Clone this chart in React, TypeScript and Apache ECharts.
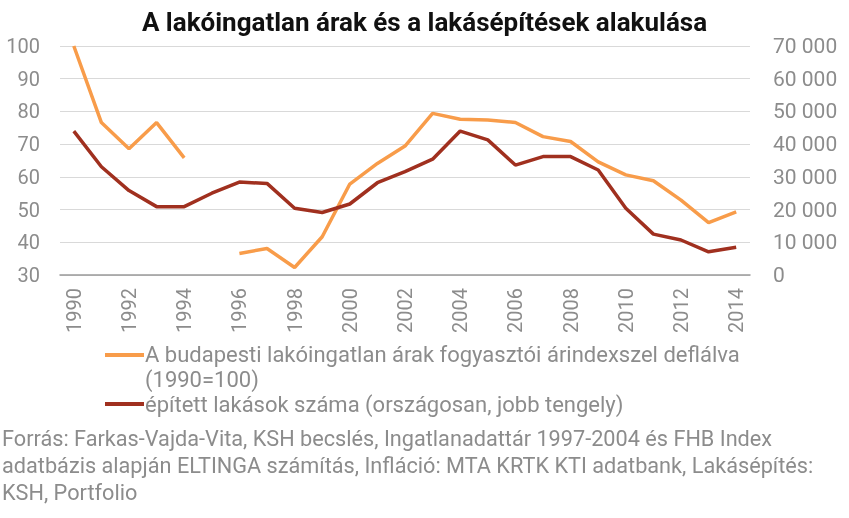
import React, { useEffect, useRef } from "react";
import * as echarts from "echarts";

const years = ["1990","1991","1992","1993","1994","1995","1996","1997","1998","1999","2000","2001","2002","2003","2004","2005","2006","2007","2008","2009","2010","2011","2012","2013","2014"];
const priceIndex: (number | null)[] = [100, 76.6, 68.6, 76.6, 65.8, null, 36.6, 38.1, 32.3, 41.7, 57.8, 64.1, 69.4, 79.4, 77.6, 77.4, 76.6, 72.3, 70.8, 64.6, 60.6, 58.8, 52.9, 46.0, 49.3];
const dwellings: number[] = [44000, 33100, 25800, 20900, 20900, 25000, 28400, 28000, 20400, 19100, 21700, 28200, 31600, 35400, 44000, 41300, 33600, 36200, 36200, 32100, 20400, 12500, 10700, 7100, 8500];
const seriesNames = [
  "A budapesti lakóingatlan árak fogyasztói árindexszel deflálva (1990=100)",
  "épített lakások száma (országosan, jobb tengely)",
];
const legendLines = [
  ["A budapesti lakóingatlan árak fogyasztói árindexszel deflálva", "(1990=100)"],
  ["épített lakások száma (országosan, jobb tengely)"],
];
const titleText = "A lakóingatlan árak és a lakásépítések alakulása";
const sourceLines = [
  "Forrás: Farkas-Vajda-Vita, KSH becslés, Ingatlanadattár 1997-2004 és FHB Index",
  "adatbázis alapján ELTINGA számítás, Infláció: MTA KRTK KTI adatbank, Lakásépítés:",
  "KSH, Portfolio",
];

const ORANGE = "#F89C4A";
const DARKRED = "#A0301F";
const GRAY = "#8c8c8c";
const FONT = "Roboto, sans-serif";

export default function App() {
  const ref = useRef<HTMLDivElement>(null);
  useEffect(() => {
    if (!ref.current) return;
    const chart = echarts.init(ref.current, null, { renderer: "svg" });
    const fmt = (v: number) => String(v).replace(/\B(?=(\d{3})+(?!\d))/g, " ");
    chart.setOption({
      animation: false,
      title: {
        text: titleText,
        left: "center",
        top: 4,
        textStyle: { fontFamily: FONT, fontSize: 26, fontWeight: "bold", color: "#111" },
      },
      grid: { left: 60, right: 99, top: 46, bottom: 243 },
      xAxis: {
        type: "category",
        data: years,
        boundaryGap: true,
        axisTick: { show: false },
        axisLine: { lineStyle: { color: "#9a9a9a", width: 1.5 } },
        axisLabel: { rotate: 90, interval: 1, margin: 13, color: GRAY, fontFamily: FONT, fontSize: 20 },
      },
      yAxis: [
        {
          type: "value",
          min: 30,
          max: 100,
          interval: 10,
          axisLine: { show: false },
          axisTick: { show: false },
          splitLine: { lineStyle: { color: "#d9d9d9", width: 1.2 } },
          axisLabel: { margin: 20, color: GRAY, fontFamily: FONT, fontSize: 20 },
        },
        {
          type: "value",
          min: 0,
          max: 70000,
          interval: 10000,
          axisLine: { show: false },
          axisTick: { show: false },
          splitLine: { show: false },
          axisLabel: { margin: 23, color: GRAY, fontFamily: FONT, fontSize: 21, formatter: fmt },
        },
      ],
      series: [
        {
          name: seriesNames[0],
          type: "line",
          data: priceIndex,
          yAxisIndex: 0,
          connectNulls: false,
          symbol: "none",
          lineStyle: { color: ORANGE, width: 3.5 },
          itemStyle: { color: ORANGE },
        },
        {
          name: seriesNames[1],
          type: "line",
          data: dwellings,
          yAxisIndex: 1,
          symbol: "none",
          lineStyle: { color: DARKRED, width: 3.5 },
          itemStyle: { color: DARKRED },
        },
      ],
      graphic: [
        { type: "line", shape: { x1: 105, y1: 355, x2: 144, y2: 355 }, style: { stroke: ORANGE, lineWidth: 4 } },
        { type: "text", left: 145, top: 342, style: { text: legendLines[0].join("\n"), fill: GRAY, font: `22px ${FONT}`, lineHeight: 25 } },
        { type: "line", shape: { x1: 105, y1: 404, x2: 144, y2: 404 }, style: { stroke: DARKRED, lineWidth: 4 } },
        { type: "text", left: 145, top: 393, style: { text: legendLines[1][0], fill: GRAY, font: `22px ${FONT}`, lineHeight: 22 } },
        { type: "text", left: 2, top: 425, style: { text: sourceLines.join("\n"), fill: GRAY, font: `21.7px ${FONT}`, lineHeight: 27 } },
      ],
    });
    return () => chart.dispose();
  }, []);
  return <div ref={ref} style={{ position: "fixed", left: 0, top: 0, width: 849, height: 518 }} />;
}
